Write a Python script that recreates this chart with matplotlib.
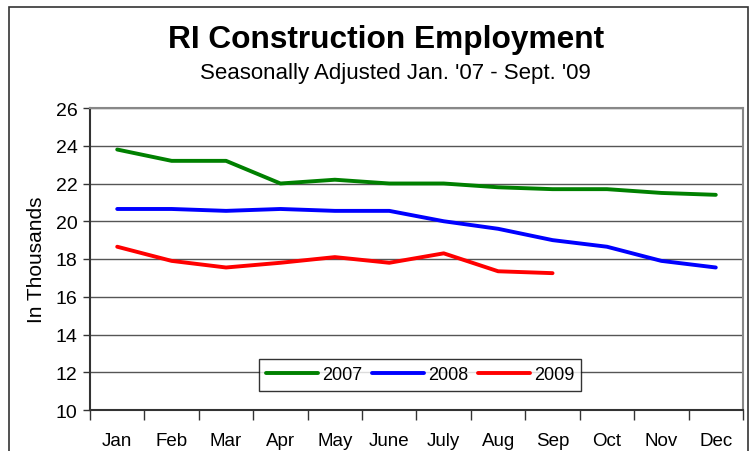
import matplotlib
matplotlib.use("Agg")
import matplotlib.pyplot as plt
from matplotlib.patches import Rectangle

months = ["Jan", "Feb", "Mar", "Apr", "May", "June", "July", "Aug", "Sep", "Oct", "Nov", "Dec"]
y2007 = [23.8, 23.2, 23.2, 22.0, 22.2, 22.0, 22.0, 21.8, 21.7, 21.7, 21.5, 21.4]
y2008 = [20.65, 20.65, 20.55, 20.65, 20.55, 20.55, 20.0, 19.6, 19.0, 18.65, 17.9, 17.55]
y2009 = [18.65, 17.9, 17.55, 17.8, 18.1, 17.8, 18.3, 17.35, 17.25]
yticks = [10, 12, 14, 16, 18, 20, 22, 24, 26]

plt.rcParams['font.family'] = ['Liberation Sans', 'DejaVu Sans']

fig = plt.figure(figsize=(7.5, 4.52), dpi=100)
ax = fig.add_axes([90/750, 1-411/452, (743-90)/750, (411-109)/452])

# outer chart frame
fig.patches.append(Rectangle((9/750, -0.05), (748-9)/750, 1.05 - 8/452,
                             transform=fig.transFigure, fill=False,
                             edgecolor='#333333', linewidth=1.2))

x = list(range(len(months)))
ax.plot(x, y2007, color='#008000', lw=2.8, label='2007', solid_capstyle='round')
ax.plot(x, y2008, color='#0000FF', lw=2.8, label='2008', solid_capstyle='round')
ax.plot(list(range(len(y2009))), y2009, color='#FF0000', lw=2.8, label='2009', solid_capstyle='round')

ax.set_xlim(-0.5, 11.5)
ax.set_ylim(10, 26)
ax.set_yticks(yticks)
ax.set_yticklabels([str(v) for v in yticks], fontsize=14)
ax.yaxis.grid(True, color='#555555', lw=1)
ax.set_axisbelow(True)

ax.set_xticks(x)
ax.set_xticklabels(months, fontsize=13.5)
ax.set_xticks([i - 0.5 for i in range(13)], minor=True)
ax.tick_params(axis='x', which='major', length=0, pad=16)
ax.tick_params(axis='x', which='minor', length=7, color='#333333', width=1)
ax.tick_params(axis='y', length=5, color='#333333', width=1, pad=4)

for s in ['top', 'right']:
    ax.spines[s].set_color('#888888')
    ax.spines[s].set_linewidth(1.5)
ax.spines['left'].set_color('#333333')
ax.spines['left'].set_linewidth(1.5)
ax.spines['bottom'].set_color('#333333')
ax.spines['bottom'].set_linewidth(1.5)

ax.set_ylabel('In Thousands', fontsize=15, labelpad=7)

fig.text(386/750, 1-40/452, 'RI Construction Employment', ha='center', va='center',
         fontsize=22.8, fontweight='bold')
fig.text(395/750, 1-74/452, "Seasonally Adjusted Jan. '07 - Sept. '09", ha='center', va='center',
         fontsize=16)

leg = ax.legend(loc='center', bbox_to_anchor=((420-90)/653, (411-376)/302), ncol=3,
                frameon=True, fancybox=False, edgecolor='black', fontsize=13,
                handlelength=2.9, handletextpad=0.2, columnspacing=0.55,
                borderpad=0.4)
leg.get_frame().set_linewidth(1.0)

fig.savefig('out.png', dpi=100)
